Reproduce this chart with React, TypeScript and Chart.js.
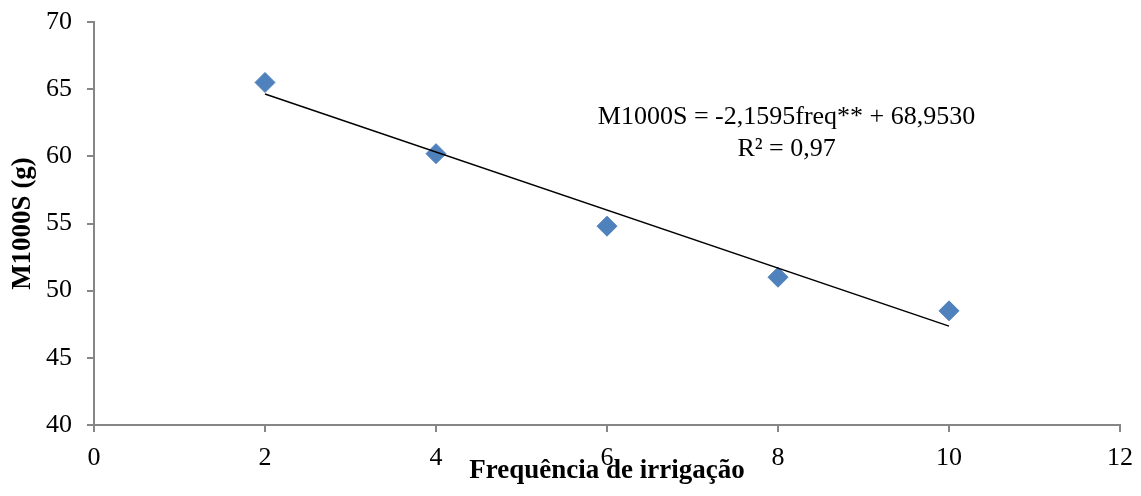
import React, { useEffect, useRef } from "react";
import { Chart, registerables } from "chart.js";

Chart.register(...registerables);

const freq = [2, 4, 6, 8, 10];
const m1000s = [65.5, 60.2, 54.8, 51.0, 48.5];
const trendSlope = -2.1595;
const trendIntercept = 68.953;
const trendRange = [2, 10];
const equationLines = ["M1000S = -2,1595freq** + 68,9530", "R² = 0,97"];
const xTitle = "Frequência de irrigação";
const yTitle = "M1000S (g)";

const FONT = "'Liberation Serif', 'Times New Roman', serif";
const AXIS_GRAY = "#868686";

export default function App() {
  const ref = useRef<HTMLCanvasElement | null>(null);

  useEffect(() => {
    document.body.style.margin = "0";
    const canvas = ref.current;
    if (!canvas) return;

    const trendData = trendRange.map((x) => ({ x, y: trendSlope * x + trendIntercept }));

    const equationPlugin = {
      id: "equation",
      afterDatasetsDraw(chart: any) {
        const { ctx, scales } = chart;
        const cx = scales.x.getPixelForValue(8.1);
        const y1 = scales.y.getPixelForValue(62.9);
        ctx.save();
        ctx.fillStyle = "#000";
        ctx.font = `26px ${FONT}`;
        ctx.textAlign = "center";
        ctx.textBaseline = "middle";
        ctx.fillText(equationLines[0], cx, y1);
        ctx.fillText(equationLines[1], cx, y1 + 32);
        ctx.restore();
      },
    };

    const chart = new Chart(canvas, {
      type: "scatter",
      data: {
        datasets: [
          {
            label: "M1000S",
            data: freq.map((x, i) => ({ x, y: m1000s[i] })),
            pointStyle: "rectRot",
            pointRadius: 10,
            pointBackgroundColor: "#4F81BD",
            pointBorderColor: "#4F81BD",
            pointBorderWidth: 1,
            showLine: false,
            order: 1,
          },
          {
            label: "Trend",
            type: "line",
            data: trendData,
            borderColor: "#000",
            borderWidth: 1.5,
            pointRadius: 0,
            fill: false,
            order: 0,
          },
        ],
      },
      options: {
        animation: false,
        responsive: false,
        maintainAspectRatio: false,
        layout: { padding: { top: 22, right: 21, left: 0, bottom: 0 } },
        plugins: {
          legend: { display: false },
          tooltip: { enabled: false },
        },
        scales: {
          x: {
            type: "linear",
            min: 0,
            max: 12,
            ticks: {
              stepSize: 2,
              color: "#000",
              font: { family: FONT, size: 26 },
              padding: 11,
            },
            grid: {
              display: true,
              drawOnChartArea: false,
              drawTicks: true,
              tickLength: 7,
              color: AXIS_GRAY,
              lineWidth: 2,
            },
            border: { display: true, color: AXIS_GRAY, width: 2 },
            title: {
              display: true,
              text: xTitle,
              color: "#000",
              font: { family: FONT, size: 27, weight: "bold" },
              padding: { top: 0, bottom: 9 },
            },
            afterFit: (scale: any) => {
              scale.height = 71;
              scale.paddingLeft = 0;
              scale.paddingRight = 0;
            },
          },
          y: {
            type: "linear",
            min: 40,
            max: 70,
            ticks: {
              stepSize: 5,
              color: "#000",
              font: { family: FONT, size: 26 },
              padding: 15,
            },
            grid: {
              display: true,
              drawOnChartArea: false,
              drawTicks: true,
              tickLength: 7,
              color: AXIS_GRAY,
              lineWidth: 2,
            },
            border: { display: true, color: AXIS_GRAY, width: 2 },
            title: {
              display: true,
              text: yTitle,
              color: "#000",
              font: { family: FONT, size: 27, weight: "bold" },
              padding: { top: 7, bottom: 0 },
            },
            afterFit: (scale: any) => {
              scale.width = 94;
              scale.paddingTop = 0;
              scale.paddingBottom = 0;
            },
          },
        },
      },
      plugins: [equationPlugin],
    });

    return () => chart.destroy();
  }, []);

  return (
    <div style={{ width: 1141, height: 496 }}>
      <canvas ref={ref} width={1141} height={496} style={{ display: "block" }} />
    </div>
  );
}
